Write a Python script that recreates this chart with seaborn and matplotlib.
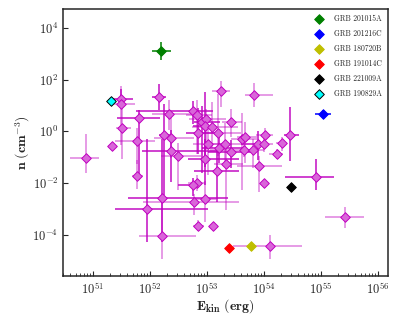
import numpy as np
import pandas as pd
import matplotlib
matplotlib.use("Agg")
import matplotlib.pyplot as plt
import seaborn as sns

# log10 values, errors in dex (lower, upper)
log_e = [51.50, 51.50, 52.15, 53.25, 53.83, 51.80, 52.34, 52.76, 52.83, 52.92,
         52.98, 52.96, 53.09, 53.19, 53.42, 51.51, 52.25, 52.37, 52.84, 51.78,
         51.33, 53.01, 53.32, 53.21, 53.62, 53.67, 54.01, 54.46, 54.31, 53.90,
         54.00, 50.87, 52.36, 52.50, 52.97, 53.65, 53.80, 53.42, 54.23, 53.33,
         53.17, 53.92, 54.00, 54.92, 51.78, 52.82, 52.75, 52.21, 52.96, 52.77,
         51.95, 52.85, 53.10, 52.21, 54.11, 55.43]
log_n = [1.25, 1.06, 1.31, 1.56, 1.42, 0.51, 0.66, 0.79, 0.62, 0.37,
         0.47, 0.21, 0.15, -0.05, 0.36, 0.12, -0.15, -0.25, -0.08, -0.37,
         -0.57, -0.48, -0.49, -0.64, -0.29, -0.23, -0.16, -0.15, -0.46, -0.50,
         -0.50, -1.02, -0.75, -0.96, -1.09, -0.71, -0.71, -0.82, -0.88, -1.25,
         -1.52, -1.35, -2.00, -1.77, -1.73, -2.00, -2.09, -2.60, -2.61, -2.74,
         -3.00, -3.65, -3.66, -4.06, -4.45, -3.33]
e_lo = [0.20, 0.19, 0.12, 0.16, 0.17, 0.38, 0.30, 1.00, 0.20, 0.15,
        0.30, 0.20, 0.35, 0.30, 0.15, 0.10, 0.10, 0.30, 0.20, 0.40,
        0.00, 0.25, 0.35, 0.30, 0.20, 0.15, 0.15, 0.10, 0.10, 0.30,
        0.10, 0.27, 0.50, 0.30, 0.30, 0.60, 0.20, 0.40, 0.15, 0.20,
        0.40, 0.40, 0.00, 0.55, 0.10, 0.15, 0.25, 0.60, 0.20, 0.90,
        0.57, 0.10, 0.00, 0.40, 0.66, 0.36]
e_hi = [0.20, 0.24, 0.13, 0.16, 0.32, 0.37, 0.40, 0.35, 0.25, 0.30,
        0.35, 0.20, 0.45, 0.40, 0.20, 0.15, 0.10, 0.40, 0.40, 0.30,
        0.00, 0.30, 0.30, 0.45, 0.25, 0.20, 0.15, 0.15, 0.10, 0.15,
        0.15, 0.24, 0.90, 0.40, 0.60, 0.20, 0.20, 0.40, 0.10, 0.30,
        0.40, 0.40, 0.00, 0.30, 0.10, 0.15, 0.10, 1.15, 0.20, 0.80,
        1.07, 0.10, 0.00, 0.60, 0.56, 0.32]
n_lo = [0.30, 1.60, 0.48, 0.62, 0.47, 2.40, 0.60, 0.50, 1.50, 2.00,
        1.20, 1.60, 0.80, 0.90, 0.60, 1.20, 2.30, 0.80, 0.80, 0.90,
        0.00, 1.20, 0.70, 0.60, 2.00, 1.00, 0.40, 1.00, 0.30, 0.60,
        0.30, 0.60, 1.20, 1.30, 1.00, 0.30, 0.70, 0.60, 0.20, 1.80,
        1.20, 1.00, 0.00, 0.50, 0.50, 0.30, 0.40, 1.70, 0.90, 0.50,
        1.30, 0.20, 0.00, 0.90, 0.50, 0.40]
n_hi = [0.40, 0.70, 0.52, 0.38, 0.45, 0.30, 0.55, 0.40, 0.60, 0.60,
        0.40, 1.30, 1.00, 1.50, 0.50, 0.90, 1.20, 0.90, 1.00, 0.50,
        0.00, 0.70, 0.80, 0.50, 1.00, 0.60, 0.30, 1.10, 0.25, 0.50,
        0.30, 0.90, 0.80, 0.50, 0.80, 0.30, 0.40, 0.50, 0.20, 0.80,
        0.80, 0.40, 0.00, 0.70, 0.60, 0.30, 0.30, 2.30, 0.70, 0.30,
        2.70, 0.20, 0.00, 1.30, 0.45, 0.40]
dark = [1, 0, 1, 0, 0, 1, 0, 1, 0, 1,
        0, 1, 0, 0, 0, 0, 1, 0, 1, 0,
        0, 0, 0, 1, 0, 0, 0, 1, 0, 1,
        0, 0, 1, 0, 1, 0, 0, 1, 0, 0,
        1, 0, 0, 1, 0, 0, 1, 1, 0, 0,
        1, 0, 0, 0, 0, 0]

grb_names = ["GRB 201015A", "GRB 201216C", "GRB 180720B",
             "GRB 191014C", "GRB 221009A", "GRB 190829A"]
grb_colors = ["green", "blue", "y", "red", "black", "cyan"]
grb_log_e = [52.20, 55.03, 53.78, 53.39, 54.47, 51.32]
grb_log_n = [3.09, 0.66, -4.44, -4.52, -2.16, 1.16]
grb_e_err = [0.16, 0.14, 0.0, 0.0, 0.0, 0.0]
grb_n_err = [0.35, 0.15, 0.0, 0.0, 0.0, 0.0]

sns.set_style("ticks")
plt.rcParams["font.family"] = ["cmr10", "DejaVu Serif"]
plt.rcParams["mathtext.fontset"] = "cm"
plt.rcParams["axes.formatter.use_mathtext"] = True

fig = plt.figure(figsize=(4, 3.2), dpi=100)
ax = fig.add_axes([0.158, 0.1375, 0.812, 0.835])

le, ln = np.array(log_e), np.array(log_n)
E, n = 10**le, 10**ln
xerr = np.array([E - 10**(le - np.array(e_lo)), 10**(le + np.array(e_hi)) - E])
yerr = np.array([n - 10**(ln - np.array(n_lo)), 10**(ln + np.array(n_hi)) - n])
dk = np.array(dark, dtype=bool)

for mask, a in [(~dk, 0.5), (dk, 0.95)]:
    ax.errorbar(E[mask], n[mask], xerr=xerr[:, mask], yerr=yerr[:, mask],
                fmt="none", ecolor="m", alpha=a, elinewidth=1.1, zorder=1)

df = pd.DataFrame({"E": E, "n": n})
sns.scatterplot(data=df, x="E", y="n", ax=ax, marker="D", s=24,
                color="#d966d9", edgecolor="#c000c0", linewidth=0.7, zorder=3)

ge, gn = 10**np.array(grb_log_e), 10**np.array(grb_log_n)
for i in range(len(grb_names)):
    if grb_e_err[i] > 0:
        ax.errorbar(ge[i], gn[i],
                    xerr=[[ge[i] - ge[i] * 10**-grb_e_err[i]], [ge[i] * 10**grb_e_err[i] - ge[i]]],
                    yerr=[[gn[i] - gn[i] * 10**-grb_n_err[i]], [gn[i] * 10**grb_n_err[i] - gn[i]]],
                    fmt="none", ecolor=grb_colors[i], elinewidth=1.1, zorder=4)
    sns.scatterplot(x=[ge[i]], y=[gn[i]], ax=ax, marker="D", s=24, color=grb_colors[i],
                    edgecolor="black" if grb_colors[i] == "cyan" else grb_colors[i],
                    linewidth=0.7, label=grb_names[i], zorder=5)

ax.set_xscale("log")
ax.set_yscale("log")
ax.set_xlim(3e50, 1.5e56)
ax.set_ylim(2.5e-6, 5.5e4)
ax.set_xlabel(r"$\mathbf{E_{kin}\ (erg)}$", fontsize=10, labelpad=0)
ax.set_ylabel(r"$\mathbf{n\ (cm^{-3})}$", fontsize=10, labelpad=0)
ax.tick_params(direction="in", labelsize=9, which="both")
for s in ax.spines.values():
    s.set_linewidth(1.1)

ax.legend(loc="upper right", frameon=False, fontsize=5.5, markerscale=1.0,
          handletextpad=1.0, labelspacing=0.85, borderaxespad=0.4)

fig.savefig("out.png", dpi=100)
